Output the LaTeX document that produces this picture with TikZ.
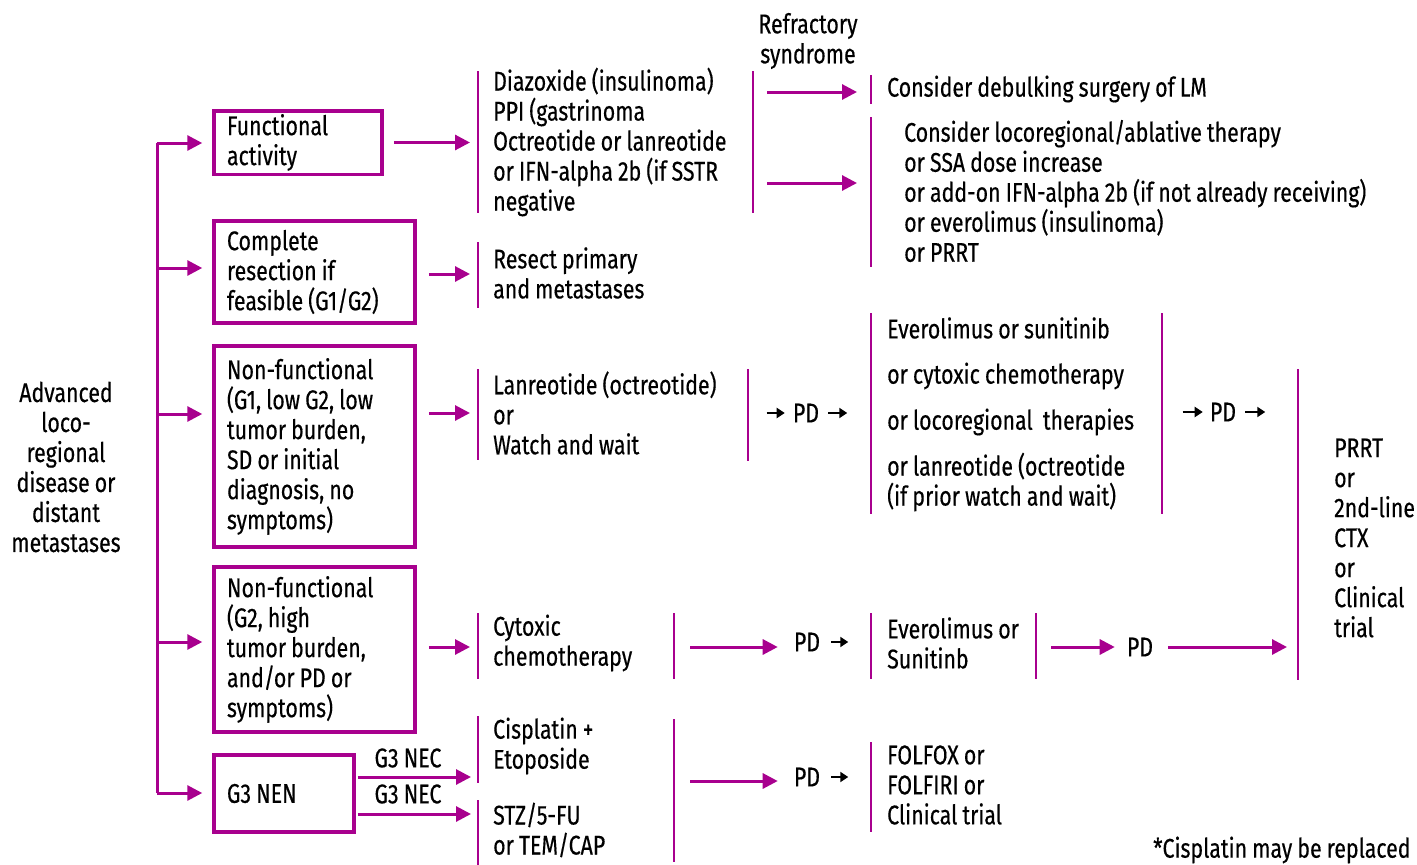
\documentclass[tikz,border=0pt]{standalone}
\usepackage{fontspec}
\setmainfont{Fira Sans}[FakeStretch=0.79, WordSpace=0.9, FakeBold=0.4]
\usetikzlibrary{arrows.meta,positioning}
\definecolor{nenpink}{RGB}{168,0,142}

\begin{document}
\begin{tikzpicture}[x=1pt, y=-1pt,
    every node/.style={font=\fontsize{27}{30}\selectfont, inner sep=0pt},
    txt/.style={anchor=west, align=left},
    box/.style={draw=nenpink, line width=3.5pt, align=flush left, inner xsep=13pt},
    arr/.style={draw=nenpink, line width=3pt, -{Triangle[length=15pt,width=15pt]}},
    blk/.style={draw=black, line width=2.8pt, -{Triangle[length=8pt,width=10pt]}},
    bar/.style={draw=nenpink, line width=2.5pt}]
    \useasboundingbox (0,0) rectangle (1417,865);

    % start
    \node[align=center] (adv) at (66,467) {Advanced\\loco-\\regional\\disease or\\distant\\metastases};

    % first column, boxes
    \node[box, minimum width=168pt, minimum height=63.5pt, text width=142pt] (fa) at (298,142.5) {Functional\\activity};
    \node[box, minimum width=201pt, minimum height=102pt, text width=175pt] (cr) at (314.5,272) {Complete\\resection if\\feasible (G1/G2)};
    \node[box, minimum width=201pt, minimum height=201pt, text width=175pt] (nf1) at (314.5,446.5) {Non-functional\\(G1, low G2, low\\tumor burden,\\SD or initial\\diagnosis, no\\symptoms)};
    \node[box, minimum width=201pt, minimum height=165pt, text width=175pt] (nf2) at (314.5,649.5) {Non-functional\\(G2, high\\tumor burden,\\and/or PD or\\symptoms)};
    \node[box, minimum width=140pt, minimum height=77pt, text width=114pt] (g3) at (284,793.5) {G3 NEN};

    \coordinate (t1) at (157,143);
    \coordinate (t2) at (157,268);
    \coordinate (t3) at (157,414);
    \coordinate (t4) at (157,642);
    \coordinate (t5) at (157,793);
    \draw[draw=nenpink, line width=3pt] (t1) -- (t5);
    \draw[arr, shorten >=10pt] (t1) -- (t1 -| fa.west);
    \draw[arr, shorten >=10pt] (t2) -- (t2 -| cr.west);
    \draw[arr, shorten >=10pt] (t3) -- (t3 -| nf1.west);
    \draw[arr, shorten >=10pt] (t4) -- (t4 -| nf2.west);
    \draw[arr, shorten >=10pt] (t5) -- (t5 -| g3.west);

    % second column
    \node[txt] (dz) at (493,142) {Diazoxide (insulinoma)\\PPI (gastrinoma\\Octreotide or lanreotide\\or IFN-alpha 2b (if SSTR\\negative};
    \node[txt] (rs) at (493,273) {Resect primary\\and metastases};
    \node[txt] (lw) at (493,413) {Lanreotide (octreotide)\\or\\Watch and wait};
    \node[txt] (cy) at (493,643) {Cytoxic\\chemotherapy};
    \node[txt] (ce) at (493,746) {Cisplatin +\\Etoposide};
    \node[txt] (st) at (493,830) {STZ/5-FU\\or TEM/CAP};
    \node (nec1) at (408,758) {G3 NEC};
    \node (nec2) at (408,794) {G3 NEC};

    \draw[bar] (478,71) -- (478,213);
    \draw[bar] (753,71) -- (753,213);
    \draw[bar] (478,242) -- (478,308);
    \draw[bar] (478,369) -- (478,460);
    \draw[bar] (748,369) -- (748,461);
    \draw[bar] (478,613) -- (478,679);
    \draw[bar] (674,613) -- (674,679);
    \draw[bar] (478,716) -- (478,783);
    \draw[bar] (478,800) -- (478,865);
    \draw[bar] (674,719) -- (674,862);

    \draw[arr, shorten <=10pt, shorten >=23pt] (fa.east) -- (fa.east -| dz.west);
    \draw[arr, shorten <=12pt, shorten >=23pt] ([yshift=-2pt]cr.east) -- ([yshift=-2pt]cr.east -| rs.west);
    \draw[arr, shorten <=12pt, shorten >=23pt] (lw.west -| nf1.east) -- (lw.west);
    \draw[arr, shorten <=12pt, shorten >=23pt] ([yshift=2.5pt]nf2.east) -- ([yshift=2.5pt]nf2.east -| cy.west);
    \draw[arr, shorten <=2pt, shorten >=22pt] ([yshift=16.5pt]g3.east) -- ([yshift=16.5pt]g3.east -| ce.west);
    \draw[arr, shorten <=2pt, shorten >=22pt] ([yshift=-20.5pt]g3.east) -- ([yshift=-20.5pt]g3.east -| st.west);

    % refractory syndrome
    \node[align=center] (rf) at (808,41) {Refractory\\syndrome};
    \node[txt] (cd) at (887,89) {Consider debulking surgery of LM};
    \node[txt] (cl) at (904,191) {Consider locoregional/ablative therapy\\or SSA dose increase\\or add-on IFN-alpha 2b (if not already receiving)\\or everolimus (insulinoma)\\or PRRT};
    \draw[bar] (871,75) -- (871,104);
    \draw[bar] (871,117) -- (871,267);
    \coordinate (r1) at (767,92);
    \coordinate (r2) at (767,183);
    \draw[arr, shorten >=30pt] (r1) -- (r1 -| cd.west);
    \draw[arr, shorten >=47pt] (r2) -- (r2 -| cl.west);

    % progression
    \node (pd1) at (806,413) {PD};
    \draw[blk] ([xshift=-26pt]pd1.west) -- ([xshift=-8pt]pd1.west);
    \draw[blk] ([xshift=9pt]pd1.east) -- ([xshift=28pt]pd1.east);
    \node[txt] (ev1) at (887,328) {Everolimus or sunitinib};
    \node[txt] (ev2) at (887,376) {or cytoxic chemotherapy};
    \node[txt] (ev3) at (887,422) {or locoregional\ \ therapies};
    \node[txt] (ev4) at (887,482) {or lanreotide (octreotide\\(if prior watch and wait)};
    \draw[bar] (871,313) -- (871,514);
    \draw[bar] (1162,313) -- (1162,514);
    \node (pd2) at (1223,412) {PD};
    \draw[blk] ([xshift=-27pt]pd2.west) -- ([xshift=-7pt]pd2.west);
    \draw[blk] ([xshift=9pt]pd2.east) -- ([xshift=29pt]pd2.east);

    \node (pd3) at (807,642) {PD};
    \node (pd4) at (807,777) {PD};
    \draw[blk] ([xshift=11pt]pd3.east) -- ([xshift=28pt]pd3.east);
    \draw[blk] ([xshift=11pt]pd4.east) -- ([xshift=28pt]pd4.east);
    \coordinate (c4) at (690,647);
    \coordinate (c5) at (690,781);
    \draw[arr, shorten >=16pt] (c4) -- (c4 -| pd3.west);
    \draw[arr, shorten >=16pt] (c5) -- (c5 -| pd4.west);

    \node[txt] (es) at (887,643) {Everolimus or\\Sunitinb};
    \node[txt] (ff) at (887,785) {FOLFOX or\\FOLFIRI or\\Clinical trial};
    \draw[bar] (871,613) -- (871,679);
    \draw[bar] (1036,613) -- (1036,679);
    \draw[bar] (871,742) -- (871,832);

    \node (pd5) at (1140,647) {PD};
    \coordinate (c6) at (1051,647);
    \draw[arr, shorten >=12pt] (c6) -- (pd5.west);

    % last line
    \node[txt] (pr) at (1334,538) {PRRT\\or\\2nd-line\\CTX\\or\\Clinical\\trial};
    \draw[bar] (1298,369) -- (1298,680);
    \draw[arr, shorten <=15pt, shorten >=47pt] (pd5.east) -- (pd5.east -| pr.west);

    \node[txt] (fn) at (1153,850) {*Cisplatin may be replaced};
\end{tikzpicture}
\end{document}
